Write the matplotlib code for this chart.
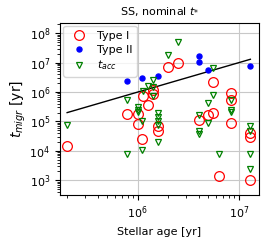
import numpy as np
import matplotlib
matplotlib.use('Agg')
import matplotlib.pyplot as plt

# Type I migration times (stellar age [yr], t_migr [yr])
age_I = [2e5, 7.8e5, 1e6, 1e6, 1.1e6, 1.12e6, 1.26e6, 1.4e6, 1.4e6, 1.58e6, 1.58e6,
         2e6, 2.5e6, 4e6, 5e6, 5.6e6, 5.6e6, 6.3e6, 8.3e6, 8.3e6, 8.3e6,
         1.28e7, 1.28e7, 1.28e7]
t_I = [1.45e4, 1.85e5, 1.8e5, 8.3e4, 2.6e4, 7.6e5, 3.6e5, 1.15e6, 8.5e5, 6.8e4, 4.6e4,
       6.9e6, 1.0e7, 1.15e5, 1.7e5, 1.9e5, 2.2e6, 1.35e3, 9.5e5, 5.2e5, 9.0e4,
       4.0e4, 2.9e4, 1.0e3]

# Type II migration times
age_II = [7.9e5, 1.1e6, 1.58e6, 4e6, 4e6, 5e6, 1.28e7]
t_II = [2.3e6, 3.0e6, 3.4e6, 1.7e7, 1.07e7, 5.8e6, 7.9e6]

# accretion times
age_acc = [2e5, 7.9e5, 7.9e5, 1e6, 1e6, 1e6, 1.1e6, 1.1e6, 1.12e6, 1.26e6,
           1.4e6, 1.4e6, 1.4e6, 1.58e6, 1.58e6, 1.58e6, 1.58e6, 1.58e6,
           2e6, 2.5e6, 4e6, 4e6, 4e6, 5e6, 5e6, 5.6e6, 5.6e6, 6.3e6,
           8.3e6, 8.3e6, 8.3e6, 1.28e7, 1.28e7, 1.28e7, 1.28e7]
t_acc = [7.3e4, 5.2e5, 8e3, 3e5, 2.5e5, 2.1e5, 1e5, 1.07e4, 1.1e6, 1.6e6,
         2.6e6, 1.5e6, 7.6e5, 1.9e5, 1.4e5, 1e5, 7.3e4, 2e4,
         1.8e7, 4.9e7, 1.7e5, 4.7e4, 3.8e4, 4.3e5, 8.8e4, 6.5e6, 8.0e5, 8e3,
         5.5e5, 2.5e5, 2.1e5, 6.8e4, 4.7e4, 8e3, 2.5e3]

# t_migr = stellar age reference line
line_x = np.array([2e5, 1.3e7])

fig = plt.figure(figsize=(2.74, 2.40), dpi=100)
ax = fig.add_axes([0.219, 0.1875, 0.726, 0.717])

ax.plot(age_I, t_I, 'o', mfc='none', mec='red', ms=7, mew=0.9, label='Type I', zorder=3)
ax.plot(age_II, t_II, 'o', color='blue', ms=3.6, label='Type II', zorder=3)
ax.plot(age_acc, t_acc, 'v', mfc='none', mec='green', ms=5, mew=0.9, label=r'$t_{acc}$', zorder=3)
ax.plot(line_x, line_x, 'k-', lw=1, zorder=2)

ax.set_xscale('log')
ax.set_yscale('log')
ax.set_xlim(1.7e5, 1.58e7)
ax.set_ylim(10**2.5, 10**8.35)
ax.grid(True, which='major', color='#c8c8c8', lw=0.8)
ax.set_axisbelow(True)
ax.tick_params(labelsize=8)

ax.set_title(r'SS, nominal $t_{*}$', fontsize=8)
ax.set_xlabel('Stellar age [yr]', fontsize=8)
ax.set_ylabel(r'$t_{migr}$ [yr]', fontsize=10, labelpad=1)
ax.legend(loc='upper left', fontsize=8, handletextpad=0.6, borderpad=0.4,
          labelspacing=0.35, borderaxespad=0.3)

fig.savefig('out.png', dpi=100)
